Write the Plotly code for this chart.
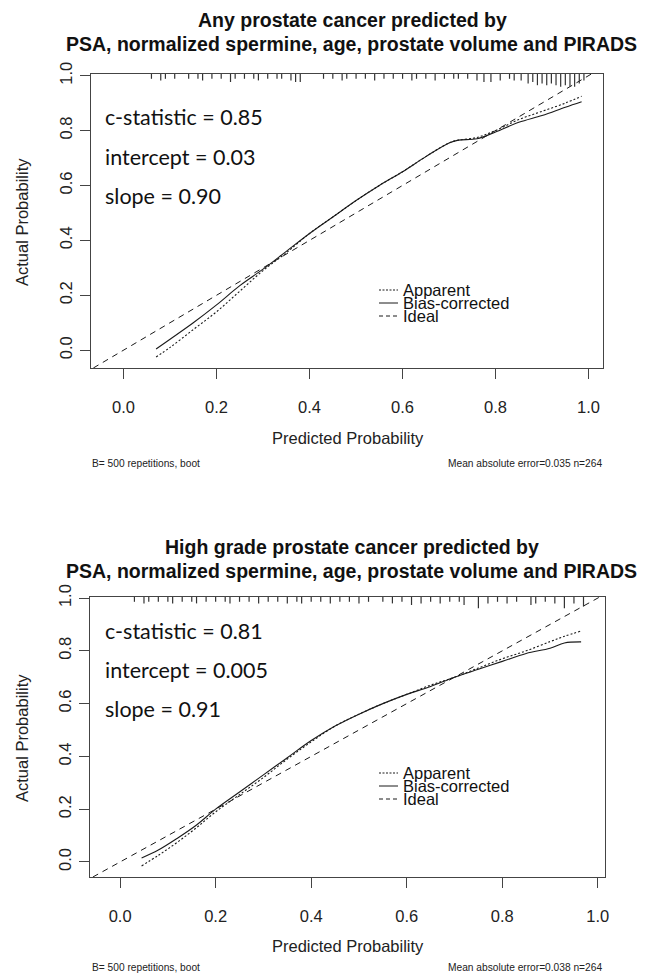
import plotly.graph_objects as go

W, H = 649, 975
OFF = 8  # page body margin offset

# ---------------- data ----------------
top_x = [0.07, 0.10, 0.15, 0.20, 0.25, 0.30, 0.35, 0.40, 0.45, 0.50, 0.55, 0.60, 0.65, 0.70, 0.72, 0.76, 0.80, 0.85, 0.90, 0.95, 0.985]
top_apparent = [-0.025, 0.01, 0.075, 0.14, 0.215, 0.29, 0.355, 0.425, 0.485, 0.545, 0.60, 0.65, 0.705, 0.755, 0.765, 0.775, 0.80, 0.84, 0.87, 0.90, 0.925]
top_bias = [0.004, 0.04, 0.10, 0.165, 0.235, 0.295, 0.36, 0.425, 0.485, 0.545, 0.60, 0.65, 0.705, 0.755, 0.765, 0.77, 0.795, 0.83, 0.855, 0.885, 0.905]

bot_x = [0.045, 0.08, 0.12, 0.16, 0.20, 0.25, 0.30, 0.35, 0.40, 0.45, 0.50, 0.55, 0.60, 0.65, 0.70, 0.75, 0.80, 0.85, 0.90, 0.93, 0.965]
bot_apparent = [-0.015, 0.025, 0.075, 0.13, 0.19, 0.255, 0.32, 0.39, 0.455, 0.515, 0.56, 0.60, 0.635, 0.67, 0.70, 0.735, 0.77, 0.80, 0.835, 0.855, 0.875]
bot_bias = [0.015, 0.045, 0.09, 0.14, 0.20, 0.265, 0.33, 0.395, 0.46, 0.515, 0.56, 0.60, 0.635, 0.665, 0.70, 0.73, 0.76, 0.79, 0.81, 0.83, 0.834]

# risk distribution rug (predicted prob, frequency)
top_rug_x = [0.06, 0.08, 0.09, 0.11, 0.14, 0.16, 0.17, 0.19, 0.21, 0.23, 0.24, 0.26, 0.28, 0.29, 0.31, 0.33, 0.34, 0.36, 0.37, 0.38,
             0.43, 0.45, 0.47, 0.48, 0.50, 0.52, 0.54, 0.56, 0.58, 0.60, 0.62, 0.63, 0.65, 0.67, 0.69, 0.71, 0.72,
             0.74, 0.76, 0.775, 0.79, 0.81, 0.83, 0.84, 0.855, 0.87, 0.88, 0.89, 0.90, 0.91, 0.92, 0.93, 0.94, 0.95, 0.96, 0.97, 0.98, 0.99]
top_rug_n = [1, 2, 1, 1, 1, 1, 2, 1, 1, 3, 1, 1, 1, 2, 1, 1, 1, 2, 3, 3,
             1, 1, 2, 1, 1, 1, 2, 1, 1, 1, 2, 1, 1, 2, 1, 1, 1,
             1, 2, 3, 3, 2, 1, 2, 2, 4, 3, 5, 4, 5, 4, 5, 6, 5, 6, 6, 4, 2]

bot_rug_x = [0.03, 0.05, 0.06, 0.08, 0.10, 0.11, 0.13, 0.15, 0.16, 0.18, 0.20, 0.22, 0.23, 0.25, 0.27, 0.29, 0.31, 0.33, 0.35,
             0.37, 0.38, 0.40, 0.42, 0.44, 0.46, 0.48, 0.50, 0.52, 0.55, 0.57, 0.59, 0.61, 0.63, 0.65, 0.67, 0.69, 0.71,
             0.72, 0.75, 0.77, 0.79, 0.81, 0.83, 0.86, 0.87, 0.89, 0.91, 0.93, 0.95, 0.97]
bot_rug_n = [1, 2, 1, 1, 1, 2, 1, 1, 2, 1, 1, 1, 2, 1, 1, 2, 1, 1, 2,
             1, 2, 1, 1, 2, 1, 1, 2, 1, 1, 2, 1, 3, 2, 1, 2, 1, 1,
             3, 5, 2, 1, 2, 1, 3, 2, 1, 2, 5, 2, 4]

ticks = [0.0, 0.2, 0.4, 0.6, 0.8, 1.0]
tick_text = ["0.0", "0.2", "0.4", "0.6", "0.8", "1.0"]

panels = [
    dict(title1="Any prostate cancer predicted by",
         title2="PSA, normalized spermine, age, prostate volume and PIRADS",
         x=top_x, app=top_apparent, bias=top_bias, rugx=top_rug_x, rugn=top_rug_n,
         stats=["c-statistic = 0.85", "intercept = 0.03", "slope = 0.90"],
         foot_left="B= 500 repetitions, boot", foot_right="Mean absolute error=0.035 n=264",
         px=(91, 603), py=(74, 368), xr=(-0.07, 1.031), yr=(-0.065, 1.006),
         t1=20, t2=44, st=[117, 157, 196], leg=[290, 303, 316], xt=438, yt=222, foot=464),
    dict(title1="High grade prostate cancer predicted by",
         title2="PSA, normalized spermine, age, prostate volume and PIRADS",
         x=bot_x, app=bot_apparent, bias=bot_bias, rugx=bot_rug_x, rugn=bot_rug_n,
         stats=["c-statistic = 0.81", "intercept = 0.005", "slope = 0.91"],
         foot_left="B= 500 repetitions, boot", foot_right="Mean absolute error=0.038 n=264",
         px=(90, 605), py=(597, 877), xr=(-0.063, 1.015), yr=(-0.057, 1.004),
         t1=547, t2=571, st=[631, 670, 709], leg=[773, 786, 799], xt=946, yt=738, foot=967),
]

FONT = "Liberation Sans, Arial, sans-serif"
LINE = "#1a1a1a"
AXC = "#444444"

fig = go.Figure()
layout = dict(width=W, height=H, margin=dict(l=0, r=0, t=0, b=0, autoexpand=False),
              paper_bgcolor="white", plot_bgcolor="white", showlegend=False)
annotations = []
shapes = []

def fx(p):
    return (p - OFF) / W

def fy(p):
    return 1 - (p - OFF) / H

for i, P in enumerate(panels):
    sfx = "" if i == 0 else str(i + 1)
    xa, ya = "x" + sfx, "y" + sfx
    x0, x1 = P["px"]
    y0, y1 = P["py"]
    axis_common = dict(showgrid=False, zeroline=False, showline=True, mirror=True, automargin=False,
                       linecolor=AXC, linewidth=1.2, ticks="outside", ticklen=10,
                       tickcolor=AXC, tickwidth=1.2, tickvals=ticks, ticktext=tick_text,
                       tickfont=dict(family=FONT, size=16.5, color="#222"))
    layout["xaxis" + sfx] = dict(axis_common, domain=[fx(x0), fx(x1)], range=list(P["xr"]),
                                 anchor=ya, ticklabelstandoff=14)
    layout["yaxis" + sfx] = dict(axis_common, domain=[fy(y1), fy(y0)], range=list(P["yr"]),
                                 anchor=xa, tickangle=-90, ticklabelstandoff=1)

    # ideal line
    lo = max(P["xr"][0], P["yr"][0])
    hi = min(P["xr"][1], P["yr"][1])
    fig.add_trace(go.Scatter(x=[lo, hi], y=[lo, hi], mode="lines", xaxis=xa, yaxis=ya,
                             line=dict(color=LINE, width=1, dash="6px,5px")))
    fig.add_trace(go.Scatter(x=P["x"], y=P["app"], mode="lines", xaxis=xa, yaxis=ya,
                             line=dict(color=LINE, width=1.1, dash="2px,2px", shape="spline")))
    fig.add_trace(go.Scatter(x=P["x"], y=P["bias"], mode="lines", xaxis=xa, yaxis=ya,
                             line=dict(color=LINE, width=1.1, shape="spline")))

    # rug hanging from the top of the box
    ytop = P["yr"][1]
    ppu = (y1 - y0) / (P["yr"][1] - P["yr"][0])  # pixels per data unit
    rx, ry = [], []
    for xv, n in zip(P["rugx"], P["rugn"]):
        rx += [xv, xv, None]
        ry += [ytop, ytop - (n + 2) * 1.6 / ppu, None]
    fig.add_trace(go.Scatter(x=rx, y=ry, mode="lines", xaxis=xa, yaxis=ya,
                             line=dict(color="#333", width=1.2)))

    # legend inside
    leg_txt = ["Apparent", "Bias-corrected", "Ideal"]
    leg_dash = ["2px,1.5px", "solid", "4px,3px"]
    for ly, lt, ld in zip(P["leg"], leg_txt, leg_dash):
        shapes.append(dict(type="line", xref="paper", yref="paper",
                           x0=fx(379), x1=fx(398), y0=fy(ly), y1=fy(ly),
                           line=dict(color=LINE, width=1, dash=ld)))
        annotations.append(dict(text=lt, x=fx(401), y=fy(ly), xref="paper", yref="paper",
                                xanchor="left", yanchor="middle", showarrow=False,
                                font=dict(family=FONT, size=16.5, color="#111")))

    # stats
    for k, s in enumerate(P["stats"]):
        annotations.append(dict(text=s, x=fx(103), y=fy(P["st"][k]), xref="paper", yref="paper",
                                xanchor="left", yanchor="middle", showarrow=False,
                                font=dict(family="Lato, Carlito, sans-serif", size=21.5, color="#111")))

    # titles
    annotations.append(dict(text="<b>" + P["title1"] + "</b>", x=fx(352), y=fy(P["t1"]),
                            xref="paper", yref="paper", xanchor="center", yanchor="middle",
                            showarrow=False, font=dict(family=FONT, size=19.5, color="#111")))
    annotations.append(dict(text="<b>" + P["title2"] + "</b>", x=fx(351), y=fy(P["t2"]),
                            xref="paper", yref="paper", xanchor="center", yanchor="middle",
                            showarrow=False, font=dict(family=FONT, size=19.5, color="#111")))
    # axis titles
    annotations.append(dict(text="Predicted Probability", x=fx(348), y=fy(P["xt"]),
                            xref="paper", yref="paper", xanchor="center", yanchor="middle",
                            showarrow=False, font=dict(family=FONT, size=16.5, color="#222")))
    annotations.append(dict(text="Actual Probability", x=fx(22), y=fy(P["yt"]),
                            xref="paper", yref="paper", xanchor="center", yanchor="middle",
                            textangle=-90, showarrow=False, font=dict(family=FONT, size=16.5, color="#222")))
    # footers
    annotations.append(dict(text=P["foot_left"], x=fx(90), y=fy(P["foot"]),
                            xref="paper", yref="paper", xanchor="left", yanchor="middle",
                            showarrow=False, font=dict(family=FONT, size=10.2, color="#222")))
    annotations.append(dict(text=P["foot_right"], x=fx(604), y=fy(P["foot"]),
                            xref="paper", yref="paper", xanchor="right", yanchor="middle",
                            showarrow=False, font=dict(family=FONT, size=10.2, color="#222")))

layout["annotations"] = annotations
layout["shapes"] = shapes
fig.update_layout(**layout)
fig.write_html("out.html")
